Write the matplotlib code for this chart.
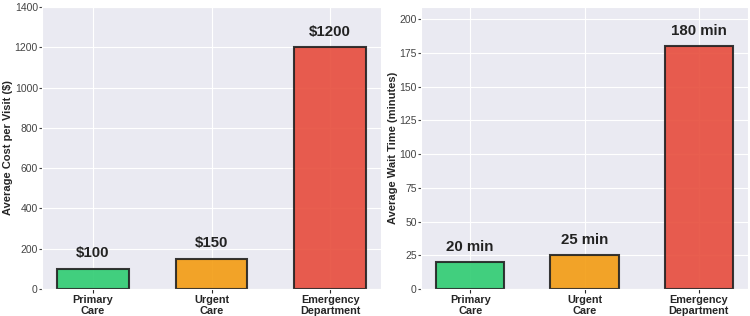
import matplotlib.pyplot as plt
import seaborn as sns
import numpy as np

categories = ["Primary\nCare", "Urgent\nCare", "Emergency\nDepartment"]
cost = [100, 150, 1200]
wait = [20, 25, 180]
colors = ["#2ecc71", "#f39c12", "#e74c3c"]

sns.set_style("darkgrid")
plt.rcParams["font.family"] = ["Liberation Sans", "DejaVu Sans"]

W, H = 750, 316
fig = plt.figure(figsize=(7.5, 3.16), dpi=100)
ax1 = fig.add_axes([42 / W, (H - 289) / H, 339 / W, 282 / H])
ax2 = fig.add_axes([421 / W, (H - 289) / H, 327 / W, 282 / H])

x = np.arange(len(categories))

for ax, vals, ylabel, fmt, ytop in [
    (ax1, cost, "Average Cost per Visit ($)", "${:.0f}", 1400),
    (ax2, wait, "Average Wait Time (minutes)", "{:.0f} min", 209),
]:
    bars = ax.bar(x, vals, width=0.6, color=colors, alpha=0.9,
                  edgecolor="#222222", linewidth=1.5)
    for b, v in zip(bars, vals):
        ax.text(b.get_x() + b.get_width() / 2, v + ytop * 0.03, fmt.format(v),
                ha="center", va="bottom", fontsize=10.8, fontweight="bold",
                color="#222222")
    ax.set_ylim(0, ytop)
    ax.set_xticks(x)
    ax.set_xticklabels(categories, fontsize=7.8, fontweight="bold")
    ax.set_ylabel(ylabel, fontsize=8, fontweight="bold", labelpad=1)
    ax.tick_params(axis="y", labelsize=7.5, colors="#444444", length=2.5, pad=0.5)
    ax.tick_params(axis="x", length=3, pad=1)
    ax.tick_params(axis="both", which="major", left=True, bottom=True)
    ax.grid(True, color="white", linewidth=0.8)

ax2.set_yticks(np.arange(0, 201, 25))

fig.savefig("out.png", dpi=100)
